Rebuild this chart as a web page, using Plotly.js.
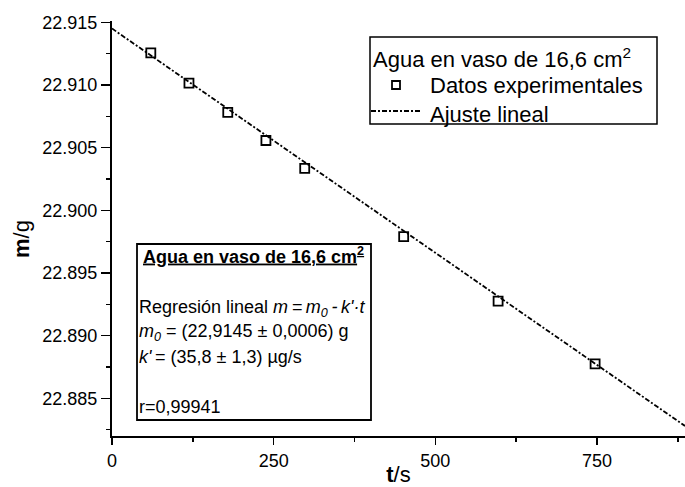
<!DOCTYPE html>
<html>
<head>
<meta charset="utf-8">
<script src="https://cdn.plot.ly/plotly-3.0.1.min.js"></script>
<style>html,body{margin:0;padding:0;background:#fff;}#chart{width:685px;height:487px;}</style>
</head>
<body>
<div id="chart"></div>
<script>
// Data
var tData = [60, 119, 179, 238, 298, 451, 597, 747];
var mData = [22.91255, 22.91015, 22.90781, 22.90557, 22.90334, 22.89790, 22.89276, 22.88775];
var tFit = [0, 886];
var mFit = [22.9145, 22.8828];
var xTicks = [0, 250, 500, 750];
var yTicks = [22.885, 22.890, 22.895, 22.900, 22.905, 22.910, 22.915];
var legendTitle = "Agua en vaso de 16,6 cm<sup>2</sup>";
var seriesNames = ["Ajuste lineal", "Datos experimentales"];
var insetLines = [
  "<b><u>Agua en vaso de 16,6 cm<sup>2</sup></u></b>",
  "Regresión lineal <i>m\u2009=\u2009m<sub>0</sub>\u2009-\u2009k'·t</i>",
  "<i>m<sub>0</sub></i> = (22,9145 ± 0,0006) g",
  "<i>k'</i>\u2009= (35,8 ± 1,3) µg/s",
  "r=0,99941"
];

var L = 112, R = 685, T = 21, B = 436, W = 685, H = 487;
function px(x) { return (x - L) / (R - L); }
function py(y) { return (B - y) / (B - T); }
var FONT = "Arial, 'Liberation Sans', sans-serif";
var DASH = "5px,2px,2px,2px";

var traces = [
  {
    x: tFit, y: mFit, type: "scatter", mode: "lines", name: seriesNames[0], showlegend: false,
    line: {color: "black", width: 1.8, dash: DASH}
  },
  {
    x: tData, y: mData, type: "scatter", mode: "markers", name: seriesNames[1], showlegend: false,
    marker: {symbol: "square-open", size: 9, color: "black", line: {width: 1.8, color: "black"}}
  }
];

function txt(t, x, y, size) {
  return {
    text: t, xref: "paper", yref: "paper", x: px(x), y: py(y),
    xanchor: "left", yanchor: "middle", showarrow: false,
    font: {family: FONT, size: size, color: "black"}
  };
}

var insetY = [256, 308, 332, 357, 407];
var insetX = [141, 137, 137, 137, 137];
var annotations = insetLines.map(function (t, i) { return txt(t, insetX[i], insetY[i], 18); });

// legend texts
annotations.push(txt(legendTitle, 371, 58, 22));
annotations.push(txt(seriesNames[1], 428, 85, 22));
annotations.push(txt(seriesNames[0], 428, 114, 22));

annotations.push({
  text: "<b>m</b>/g", xref: "paper", yref: "paper", x: px(21), y: py(239),
  xanchor: "center", yanchor: "middle", textangle: -90, showarrow: false,
  font: {family: FONT, size: 22, color: "black"}
});

var layout = {
  width: W, height: H,
  margin: {l: L, r: W - R, t: T, b: H - B, pad: 0},
  paper_bgcolor: "white", plot_bgcolor: "white",
  font: {family: FONT, color: "black"},
  showlegend: false,
  xaxis: {
    range: [0, 886], tickvals: xTicks, ticktext: xTicks.map(String),
    showgrid: false, zeroline: false, showline: true, linecolor: "black", linewidth: 2,
    ticks: "outside", ticklen: 7, tickwidth: 1.5, tickcolor: "black",
    tickfont: {family: FONT, size: 18, color: "black"},
    minor: {dtick: 125, tick0: 0, ticks: "outside", ticklen: 4, tickwidth: 1.5, tickcolor: "black", showgrid: false},
    title: {text: "<b>t</b>/s", font: {family: FONT, size: 22, color: "black"}, standoff: 4}
  },
  yaxis: {
    range: [22.882, 22.9151], tickvals: yTicks, ticktext: yTicks.map(function (v) { return v.toFixed(3); }),
    showgrid: false, zeroline: false, showline: true, linecolor: "black", linewidth: 2,
    ticks: "outside", ticklen: 9, tickwidth: 1.5, tickcolor: "black",
    tickfont: {family: FONT, size: 18, color: "black"},
    minor: {dtick: 0.0025, tick0: 22.8825, ticks: "outside", ticklen: 4, tickwidth: 1.5, tickcolor: "black", showgrid: false}
  },
  shapes: [
    { // inset box
      type: "rect", xref: "paper", yref: "paper",
      x0: px(137), x1: px(371), y0: py(420), y1: py(244),
      line: {color: "black", width: 1.8}, fillcolor: "white", layer: "above"
    },
    { // legend box
      type: "rect", xref: "paper", yref: "paper",
      x0: px(370), x1: px(657), y0: py(124), y1: py(37),
      line: {color: "black", width: 1.5}, fillcolor: "white", layer: "above"
    },
    { // legend marker swatch
      type: "rect", xref: "paper", yref: "paper",
      x0: px(392), x1: px(400), y0: py(89), y1: py(81),
      line: {color: "black", width: 1.8}, fillcolor: "white", layer: "above"
    },
    { // legend line swatch
      type: "line", xref: "paper", yref: "paper",
      x0: px(371), x1: px(421), y0: py(111), y1: py(111),
      line: {color: "black", width: 1.8, dash: DASH}, layer: "above"
    }
  ],
  annotations: annotations
};

Plotly.newPlot("chart", traces, layout, {staticPlot: true, displayModeBar: false});
</script>
</body>
</html>
